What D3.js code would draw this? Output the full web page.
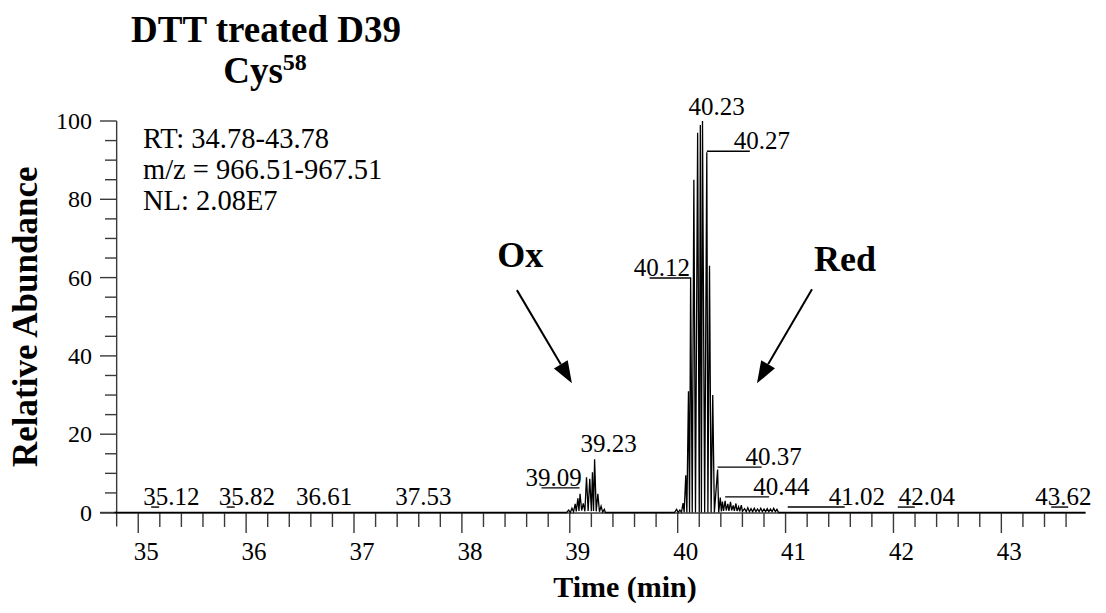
<!DOCTYPE html>
<html>
<head>
<meta charset="utf-8">
<script src="https://cdn.jsdelivr.net/npm/d3@7"></script>
<style>
  html, body { margin: 0; padding: 0; background: #fff; }
  svg { display: block; font-family: 'Liberation Serif', 'Times New Roman', Times, serif; }
</style>
</head>
<body>
<svg id="chart" width="1106" height="613"></svg>
<script>
// ---- data
const timeTicks = [35, 36, 37, 38, 39, 40, 41, 42, 43]
const abundanceTicks = [0, 20, 40, 60, 80, 100]
const titleText = 'DTT treated D39'
const residue = 'Cys'
const residueNumber = '58'
const infoLines = ['RT: 34.78-43.78', 'm/z = 966.51-967.51', 'NL: 2.08E7']
const peakTimes = [35.12, 35.82, 36.61, 37.53, 39.09, 39.23, 40.12, 40.23, 40.27, 40.37, 40.44, 41.02, 42.04, 43.62]
const calloutNames = ['Ox', 'Red']

// [time (min), relative abundance]
const trace = [
  [34.78, 0], [38.97, 0],
  [38.99, 0.6], [39.005, 0], [39.02, 1.1], [39.035, 0.2], [39.05, 2.2], [39.06, 0.3],
  [39.075, 3.6], [39.085, 0.4], [39.095, 4.8], [39.11, 0.5], [39.125, 2.3], [39.14, 0.3],
  [39.155, 9.0], [39.17, 0.4], [39.185, 8.6], [39.2, 0.3], [39.21, 10.3], [39.22, 0.4],
  [39.23, 13.6], [39.245, 0.3], [39.26, 4.8], [39.275, 0.2], [39.29, 1.6], [39.305, 0.1],
  [39.32, 0.8], [39.33, 0],
  [39.97, 0], [39.99, 0.8], [40.005, 0], [40.02, 0.6], [40.035, 0.1], [40.05, 2.4], [40.06, 0.1],
  [40.075, 9.5], [40.085, 0], [40.1, 31], [40.11, 0], [40.12, 60], [40.135, 0], [40.15, 85],
  [40.165, 0], [40.185, 97], [40.2, 0], [40.21, 99], [40.22, 0], [40.23, 100], [40.25, 0],
  [40.27, 92], [40.28, 0], [40.295, 63], [40.31, 0], [40.325, 30], [40.34, 0], [40.37, 11],
  [40.38, 0], [40.395, 3.8], [40.405, 0.3], [40.415, 2.8], [40.425, 0.4], [40.44, 3.0],
  [40.45, 0.5], [40.465, 2.2], [40.475, 0.4], [40.49, 2.7], [40.5, 0.5], [40.515, 1.8],
  [40.525, 0.4], [40.54, 2.3], [40.55, 0.4], [40.565, 1.5], [40.575, 0.3], [40.59, 1.9],
  [40.6, 0.3], [40.62, 1.0], [40.635, 0.2], [40.65, 1.2], [40.665, 0.2], [40.68, 1.0],
  [40.695, 0.2], [40.71, 1.1], [40.725, 0.2], [40.74, 0.9], [40.755, 0.2], [40.77, 1.1],
  [40.785, 0.2], [40.8, 0.9], [40.815, 0.2], [40.83, 1.0], [40.845, 0.2], [40.86, 0.9],
  [40.875, 0.2], [40.89, 1.1], [40.905, 0.2], [40.92, 0.8], [40.935, 0],
  [43.78, 0],
]

// ---- layout
const x = d3.scaleLinear().domain([34.78, 43.78]).range([114.5, 1085.5])
const y = d3.scaleLinear().domain([0, 100]).range([512.5, 121])
const axisColor = '#3a3a3a'

// label placement: dx = text start relative to peak (px), at = baseline level (abundance)
const labelLayout = {
  '35.12': { dx: -8, at: 1.9, lead: true },
  '35.82': { dx: -8, at: 1.9, lead: true },
  '36.61': { dx: -16, at: 1.9 },
  '37.53': { dx: -16, at: 1.9 },
  '39.09': { dx: -54, at: 6.8, lead: true },
  '39.23': { dx: -14, at: 15.5 },
  '40.12': { dx: -57, at: 60.4, lead: true },
  '40.23': { dx: -14, at: 101.5 },
  '40.27': { dx: 27, at: 92.8, lead: true },
  '40.37': { dx: 28, at: 12.1, lead: true },
  '40.44': { dx: 28, at: 4.5, lead: true },
  '41.02': { dx: 41, at: 1.9, lead: true },
  '42.04': { dx: 1, at: 1.9, lead: true },
  '43.62': { dx: -33, at: 1.9, lead: true },
}
// callout text anchor and arrow from/to, in data units
const calloutLayout = {
  Ox: { text: [38.54, 62.6], from: [38.51, 56.8], to: [39.02, 33.0] },
  Red: { text: [41.55, 61.6], from: [41.245, 57.0], to: [40.735, 33.0] },
}

const svg = d3.select('#chart')

// -- titles
svg.append('text')
  .attr('x', 266).attr('y', 42)
  .attr('text-anchor', 'middle')
  .attr('font-size', 37).attr('font-weight', 'bold')
  .text(titleText)

const sub = svg.append('text')
  .attr('x', 265).attr('y', 83)
  .attr('text-anchor', 'middle')
  .attr('font-size', 37).attr('font-weight', 'bold')
sub.append('tspan').text(residue)
sub.append('tspan').attr('font-size', 24).attr('dy', -13).text(residueNumber)

// -- y axis
const axisX = x(34.8)
svg.append('line')
  .attr('x1', axisX).attr('x2', axisX)
  .attr('y1', y(100)).attr('y2', y(0) + 14)
  .attr('stroke', axisColor).attr('stroke-width', 1.4)

d3.range(0, 101, 5).forEach((v) => {
  const major = v % 20 === 0
  svg.append('line')
    .attr('x1', major ? 100 : 105).attr('x2', axisX)
    .attr('y1', y(v)).attr('y2', y(v))
    .attr('stroke', axisColor).attr('stroke-width', 1.4)
})

svg.append('g').selectAll('text')
  .data(abundanceTicks)
  .join('text')
  .attr('x', 92).attr('y', (d) => y(d) + 8)
  .attr('text-anchor', 'end')
  .attr('font-size', 24)
  .text((d) => d)

svg.append('text')
  .attr('transform', `translate(37,${y(50)}) rotate(-90)`)
  .attr('text-anchor', 'middle')
  .attr('font-size', 35).attr('font-weight', 'bold')
  .text('Relative Abundance')

// -- x axis
const axisY = y(0) + 0.5
svg.append('line')
  .attr('x1', 100).attr('x2', x(43.78))
  .attr('y1', axisY).attr('y2', axisY)
  .attr('stroke', axisColor).attr('stroke-width', 1.5)

d3.range(175, 219).forEach((i) => {
  const major = i % 5 === 0
  svg.append('line')
    .attr('x1', x(i / 5)).attr('x2', x(i / 5))
    .attr('y1', axisY).attr('y2', axisY + (major ? 20 : 14))
    .attr('stroke', axisColor).attr('stroke-width', 1.4)
})

svg.append('g').selectAll('text')
  .data(timeTicks)
  .join('text')
  .attr('x', (d) => x(d) + 8).attr('y', 560)
  .attr('text-anchor', 'middle')
  .attr('font-size', 25)
  .text((d) => d)

svg.append('text')
  .attr('x', 625).attr('y', 597)
  .attr('text-anchor', 'middle')
  .attr('font-size', 30).attr('font-weight', 'bold')
  .text('Time (min)')

// -- info block
svg.append('g').selectAll('text')
  .data(infoLines)
  .join('text')
  .attr('x', 143).attr('y', (d, i) => 148 + i * 31)
  .attr('font-size', 28.5)
  .text((d) => d)

// -- trace
const line = d3.line().x(([t]) => x(t)).y(([, v]) => y(v))
svg.append('path')
  .datum(trace)
  .attr('fill', 'none')
  .attr('stroke', '#000')
  .attr('stroke-width', 1.3)
  .attr('stroke-linejoin', 'miter')
  .attr('d', line)

// -- peak labels
peakTimes.forEach((t) => {
  const label = t.toFixed(2)
  const { dx, at, lead } = labelLayout[label]
  const px = x(t)
  const tx = px + dx
  const by = y(at)
  svg.append('text')
    .attr('x', tx).attr('y', by)
    .attr('font-size', 25)
    .text(label)
  if (lead) {
    const a = Math.min(px, tx + 16)
    const b = Math.max(px, tx + 16)
    svg.append('line')
      .attr('x1', a).attr('x2', b)
      .attr('y1', by + 2).attr('y2', by + 2)
      .attr('stroke', '#000').attr('stroke-width', 1.4)
  }
})

// -- Ox / Red callouts
calloutNames.forEach((name) => {
  const c = calloutLayout[name]
  svg.append('text')
    .attr('x', x(c.text[0])).attr('y', y(c.text[1]))
    .attr('text-anchor', 'middle')
    .attr('font-size', 36).attr('font-weight', 'bold')
    .text(name)

  const x1 = x(c.from[0]), y1 = y(c.from[1])
  const x2 = x(c.to[0]), y2 = y(c.to[1])
  const ang = Math.atan2(y2 - y1, x2 - x1)
  const headLen = 22, headW = 8
  const bx = x2 - headLen * Math.cos(ang), by = y2 - headLen * Math.sin(ang)
  svg.append('line')
    .attr('x1', x1).attr('y1', y1).attr('x2', bx).attr('y2', by)
    .attr('stroke', '#000').attr('stroke-width', 2)
  const nx = -Math.sin(ang) * headW, ny = Math.cos(ang) * headW
  svg.append('path')
    .attr('d', `M${x2},${y2}L${bx + nx},${by + ny}L${bx - nx},${by - ny}Z`)
    .attr('fill', '#000')
})
</script>
</body>
</html>
